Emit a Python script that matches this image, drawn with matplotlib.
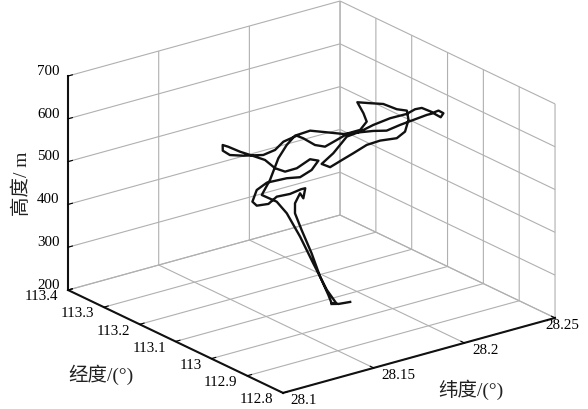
#! /usr/bin/python

import matplotlib
matplotlib.use('Agg')
import matplotlib.pyplot as plt

serif = ['Liberation Serif', 'Noto Sans CJK SC']
plt.rcParams['font.family'] = serif

# flight track, in order from take-off
lat = [28.1900, 28.1844, 28.1810, 28.1781, 28.1745, 28.1714, 28.1677, 28.1651, 28.1646, 28.1674,
       28.1649, 28.1698, 28.1676, 28.1572, 28.1474, 28.1392, 28.1307, 28.1321, 28.1390, 28.1479,
       28.1550, 28.1604, 28.1666, 28.1758, 28.1739, 28.1627, 28.1561, 28.1551, 28.1576, 28.1564,
       28.1549, 28.1544, 28.1506, 28.1465, 28.1458, 28.1500, 28.1575, 28.1653, 28.1743, 28.1833,
       28.1837, 28.1829, 28.1852, 28.1942, 28.1938, 28.2004, 28.2087, 28.2137, 28.2196, 28.2234,
       28.2274, 28.2283, 28.2308, 28.2246, 28.2148, 28.2071, 28.1995, 28.1917, 28.1809, 28.1730,
       28.1626, 28.1620, 28.1739, 28.1908, 28.1991, 28.2086, 28.2194, 28.2283, 28.2347, 28.2380,
       28.2386, 28.2419, 28.2417, 28.2378, 28.2382, 28.2346, 28.2263, 28.2180, 28.2091, 28.2042,
       28.1972, 28.2009, 28.1963, 28.1917, 28.1827, 28.1730, 28.1604, 28.1416, 28.1434, 28.1531,
       28.1607, 28.1670, 28.1709, 28.1765, 28.1823, 28.1820]
lon = [113.0681, 113.0726, 113.0743, 113.0688, 113.0736, 113.0816, 113.0907, 113.0961, 113.0935, 113.0936,
       113.0717, 113.0912, 113.0918, 113.0698, 113.0574, 113.0390, 113.0287, 113.0479, 113.0708, 113.0876,
       113.0679, 113.0581, 113.0572, 113.0849, 113.0986, 113.0788, 113.0782, 113.1010, 113.1419, 113.1686,
       113.1980, 113.2285, 113.2245, 113.2035, 113.1801, 113.1640, 113.1462, 113.1528, 113.1749, 113.1834,
       113.1671, 113.1304, 113.1140, 113.1268, 113.0924, 113.0927, 113.1166, 113.1510, 113.1979, 113.1812,
       113.1650, 113.1318, 113.1164, 113.0804, 113.0405, 113.0246, 113.0327, 113.0304, 113.0133, 113.0014,
       112.9854, 113.0060, 113.0337, 113.0815, 113.0864, 113.0976, 113.1053, 113.1042, 113.1131, 113.1111,
       113.0819, 113.0842, 113.0695, 113.0573, 113.0797, 113.0801, 113.0753, 113.0704, 113.0629, 113.0754,
       113.0861, 113.1422, 113.1654, 113.1884, 113.1852, 113.1592, 113.1187, 113.0469, 113.0790, 113.0863,
       113.0968, 113.0914, 113.0745, 113.0648, 113.0666, 113.0794]
alt = [200, 200, 205, 230, 275, 330, 385, 425, 450, 470,
       470, 480, 480, 490, 500, 500, 510, 510, 520, 520,
       530, 530, 540, 540, 540, 540, 540, 540, 540, 540,
       540, 540, 550, 550, 550, 550, 550, 550, 550, 550,
       550, 550, 550, 550, 580, 580, 580, 580, 580, 580,
       580, 580, 580, 580, 580, 580, 580, 580, 580, 580,
       580, 580, 580, 580, 580, 580, 580, 580, 580, 580,
       580, 580, 580, 580, 580, 580, 580, 580, 580, 580,
       580, 550, 550, 550, 550, 550, 550, 550, 500, 470,
       430, 370, 310, 245, 205, 200]

lat_ticks = [28.1, 28.15, 28.2, 28.25]
lat_labels = ['28.1', '28.15', '28.2', '28.25']
lon_ticks = [112.8, 112.9, 113, 113.1, 113.2, 113.3, 113.4]
lon_labels = ['112.8', '112.9', '113', '113.1', '113.2', '113.3', '113.4']
alt_ticks = [200, 300, 400, 500, 600, 700]

fig = plt.figure(figsize=(5.88, 4.09), dpi=100)
ax = fig.add_axes([40.4 / 588, -59.1 / 409, 528 / 588, 528 / 409], projection='3d')
ax.set_proj_type('ortho')
ax.view_init(elev=21.3, azim=-127.2)
ax.set_box_aspect((341.5, 355.6, 229.7))
ax.patch.set_alpha(0)

ax.plot(lat, lon, alt, color='#111111', linewidth=1.7)

ax.set_xlim(28.1, 28.25, view_margin=0)
ax.set_ylim(112.8, 113.4, view_margin=0)
ax.set_zlim(200, 700, view_margin=0)
ax.set_xticks(lat_ticks)
ax.set_xticklabels(lat_labels, fontsize=10.8)
ax.set_yticks(lon_ticks)
ax.set_yticklabels(lon_labels, fontsize=10.8)
ax.set_zticks(alt_ticks)
ax.set_zticklabels([str(t) for t in alt_ticks], fontsize=10.8)

for axis in [ax.xaxis, ax.yaxis, ax.zaxis]:
	axis.set_pane_color((1, 1, 1, 0))
	axis.pane.set_edgecolor('#9a9a9a')
	axis.pane.set_linewidth(0.8)
	axis.line.set_color('#111111')
	axis.line.set_linewidth(1.5)
	axis._axinfo['grid']['color'] = '#b0b0b0'
	axis._axinfo['grid']['linewidth'] = 0.8
	axis._axinfo['tick']['inward_factor'] = 0
	axis._axinfo['tick']['outward_factor'] = 0.2
ax.xaxis.set_tick_params(pad=-1)
ax.yaxis.set_tick_params(pad=-1)
ax.zaxis.set_tick_params(pad=0)

# nudge the tick labels towards where the original has them
for lab in ax.get_xticklabels():
	lab.set_va('baseline')
	if lab.get_text() != '28.25':
		lab.set_ha('left')
for lab in ax.get_yticklabels():
	lab.set_va('baseline')
	lab.set_ha('right')
for lab in ax.get_zticklabels():
	lab.set_va('baseline')

fig.text(101 / 588, 1 - 375 / 409, '经度/(°)', fontsize=14, ha='center', va='center', color='#222222')
fig.text(471 / 588, 1 - 390 / 409, '纬度/(°)', fontsize=14, ha='center', va='center', color='#222222')
fig.text(22 / 588, 1 - 184 / 409, '高度/ m', fontsize=14, rotation=90, ha='center', va='center', color='#222222')

fig.savefig('out.png', dpi=100)
